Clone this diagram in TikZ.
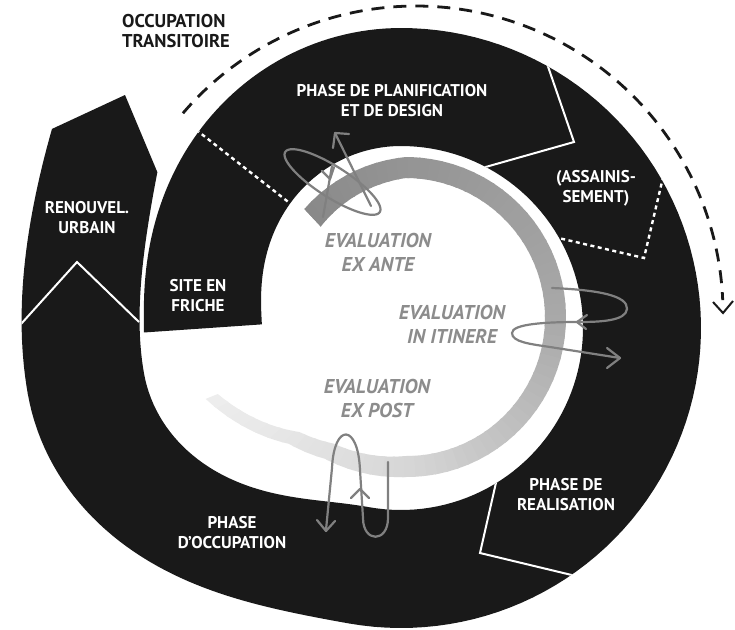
\documentclass[tikz,border=0pt]{standalone}
\usepackage{fontspec}
\setmainfont{PT Sans}
\newcommand\bandpath{%
  plot[domain=-1:90,samples=60,variable=\t] ({401-(ra(\t)+118)*cos(\t)},{328-(ra(\t)+118)*sin(\t)})
  -- plot[domain=90:280,samples=80,variable=\t] ({401-300*cos(\t)},{328-300*sin(\t)})
  -- plot[domain=280:350,samples=50,variable=\t] ({401-(rc(\t)+118)*cos(\t)},{328-(rc(\t)+118)*sin(\t)})
  -- plot[domain=350:389.7,samples=30,variable=\t] ({401-(rd(\t)+118)*cos(\t)},{328-(rd(\t)+118)*sin(\t)})
  -- (125,95)
  -- plot[domain=392.6:350,samples=30,variable=\t] ({401-rd(\t)*cos(\t)},{328-rd(\t)*sin(\t)})
  -- plot[domain=350:280,samples=50,variable=\t] ({401-rc(\t)*cos(\t)},{328-rc(\t)*sin(\t)})
  -- plot[domain=280:90,samples=80,variable=\t] ({401-182*cos(\t)},{328-182*sin(\t)})
  -- plot[domain=90:1.5,samples=60,variable=\t] ({401-ra(\t)*cos(\t)},{328-ra(\t)*sin(\t)})
  -- cycle}
\newcommand\greyband{%
  plot[domain=47:90,samples=20,variable=\t] ({406-(149+12*(\t-47)/43)*cos(\t)},{318-(149+12*(\t-47)/43)*sin(\t)})
  -- plot[domain=90:270,samples=60,variable=\t] ({406-(161-2*(\t-90)/180)*cos(\t)},{318-(161-2*(\t-90)/180)*sin(\t)})
  -- plot[domain=270:300,samples=12,variable=\t] ({406-(159+7*(\t-270)/30-8*(\t-270)/68)*cos(\t)},{318-(159+7*(\t-270)/30-8*(\t-270)/68)*sin(\t)})
  -- plot[domain=300:313,samples=8,variable=\t] ({406-(166+11*(\t-300)/13-8*(\t-270)/68)*cos(\t)},{318-(166+11*(\t-300)/13-8*(\t-270)/68)*sin(\t)})
  -- plot[domain=313:338,samples=12,variable=\t] ({406-(177+47*(\t-313)/25-8*(\t-270)/68)*cos(\t)},{318-(177+47*(\t-313)/25-8*(\t-270)/68)*sin(\t)})
  -- plot[domain=338:313,samples=12,variable=\t] ({406-(156+47*(\t-313)/25)*cos(\t)},{318-(156+47*(\t-313)/25)*sin(\t)})
  -- plot[domain=313:300,samples=8,variable=\t] ({406-(145+11*(\t-300)/13)*cos(\t)},{318-(145+11*(\t-300)/13)*sin(\t)})
  -- plot[domain=300:270,samples=12,variable=\t] ({406-(138+7*(\t-270)/30)*cos(\t)},{318-(138+7*(\t-270)/30)*sin(\t)})
  -- plot[domain=270:90,samples=60,variable=\t] ({406-(140-2*(\t-90)/180)*cos(\t)},{318-(140-2*(\t-90)/180)*sin(\t)})
  -- plot[domain=90:47,samples=20,variable=\t] ({406-(125+15*(\t-47)/43)*cos(\t)},{318-(125+15*(\t-47)/43)*sin(\t)})
  -- cycle}
\begin{document}
\begin{tikzpicture}[x=1pt,y=-1pt,
  declare function={
    ra(\t)=139+43*abs(sin(\t))*sqrt(abs(sin(\t))+0.0001);
    rc(\t)=182+79*sin(90*(\t-280)/70)*sin(90*(\t-280)/70);
    rd(\t)=261+29*((\t-350)/43)*((\t-350)/43)*((\t-350)/43);
  },
  lab/.style={text=white, font=\bfseries\fontsize{17}{20}\selectfont, align=center, inner sep=0pt},
  evl/.style={text=black!45, font=\bfseries\itshape\fontsize{20}{24}\selectfont, align=center, inner sep=0pt},
  sepline/.style={white, line width=2pt},
  sepdots/.style={white, line width=2.4pt, dash pattern=on 4pt off 3.5pt},
  evarrow/.style={black!50, line width=2.2pt, line cap=round, line join=round},
]
\fill[white] (0,0) rectangle (735,629);
\useasboundingbox (0,0) rectangle (735,629);
% black spiral band
\fill[black!90] \bandpath;
\begin{scope}
  \clip \bandpath;
  \draw[sepdots] (190,125) -- (296,208);
  \draw[sepline] (543,52) -- (574,142) -- (475,170);
  \draw[sepdots] (665,169) -- (644,258) -- (550,236);
  \draw[sepline] (500,465) -- (480,553) -- (580,577);
  \draw[sepline] (12,334) -- (77,262) -- (139,322);
\end{scope}
% grey evaluation band with gradient
\begin{scope}
  \clip \greyband;
  \foreach \a in {43,47,...,87} {
    \pgfmathsetmacro\pc{46-4*(\a+2-50)/40}
    \fill[black!\pc] (406,318) -- ({406-260*cos(\a-0.4)},{318-260*sin(\a-0.4)}) -- ({406-260*cos(\a+4.4)},{318-260*sin(\a+4.4)}) -- cycle;
  }
  \foreach \a in {91,95,...,179} {
    \pgfmathsetmacro\pc{42-8*(\a+2-90)/90}
    \fill[black!\pc] (406,318) -- ({406-260*cos(\a-0.4)},{318-260*sin(\a-0.4)}) -- ({406-260*cos(\a+4.4)},{318-260*sin(\a+4.4)}) -- cycle;
  }
  \foreach \a in {183,187,...,267} {
    \pgfmathsetmacro\pc{34-18*(\a+2-180)/90}
    \fill[black!\pc] (406,318) -- ({406-260*cos(\a-0.4)},{318-260*sin(\a-0.4)}) -- ({406-260*cos(\a+4.4)},{318-260*sin(\a+4.4)}) -- cycle;
  }
  \foreach \a in {271,275,...,343} {
    \pgfmathsetmacro\pc{max(5,16-9*(\a+2-270)/68)}
    \fill[black!\pc] (406,318) -- ({406-260*cos(\a-0.4)},{318-260*sin(\a-0.4)}) -- ({406-260*cos(\a+4.4)},{318-260*sin(\a+4.4)}) -- cycle;
  }
\end{scope}
% dashed arc : occupation transitoire
\draw[black!90, line width=2.8pt, dash pattern=on 13pt off 9pt] plot[domain=139.4:2.4,samples=120,variable=\s] ({416+307*cos(\s)},{313-307*sin(\s)});
\draw[black!90, line width=2pt] (713,302) -- (723,313) -- (733,301);
% evaluation loops
\draw[evarrow] plot[domain=0:360,samples=100,variable=\u] ({332.5+56*cos(\u)*cos(32.5)-15.5*sin(\u)*sin(32.5)},{182+56*cos(\u)*sin(32.5)+15.5*sin(\u)*cos(32.5)}) -- cycle;
\draw[evarrow] (323,217) -- (332,166);
\draw[evarrow] (322,171) -- (330,179) -- (334,167);
\draw[evarrow] (371,206) -- (335,133);
\draw[evarrow] (333,148) -- (335,133) -- (349,134);
\draw[evarrow] (552,288) .. controls (600,290) and (628,296) .. (627,309) .. controls (626,321) and (600,322) .. (578,322) .. controls (545,322) and (512,324) .. (512,333) .. controls (512,342) and (530,344) .. (550,347) -- (620,358);
\draw[evarrow] (587,315) -- (577,322) -- (586,329);
\draw[evarrow] (607,348) -- (620,358) -- (607,368);
\draw[evarrow] (388,462) -- (388,518) .. controls (388,543) and (363,543) .. (363,518) -- (360,470) .. controls (358,423) and (334,423) .. (332,468) -- (326,530);
\draw[evarrow] (351,498) -- (360,489) -- (369,498);
\draw[evarrow] (317,520) -- (326,531) -- (335,521);
% labels
\node[lab] (planif) at (392,101) {PHASE DE PLANIFICATION\\ET DE DESIGN};
\node[lab] (assain) at (596,188) {(ASSAINIS-\\SEMENT)};
\node[lab] (renouv) at (87,218) {RENOUVEL.\\URBAIN};
\node[lab] (friche) at (198,296) {SITE EN\\FRICHE};
\node[lab] (occup) at (232,533) {PHASE\\D’OCCUPATION};
\node[lab] (realis) at (566,495) {PHASE DE\\REALISATION};
\node[lab, text=black!90, align=left, anchor=north west, font=\bfseries\fontsize{18.5}{20}\selectfont] (occtrans) at (122,14) {OCCUPATION\\TRANSITOIRE};
\node[evl] (exante) at (378,252) {EVALUATION\\EX ANTE};
\node[evl] (itinere) at (452,324) {EVALUATION\\IN ITINERE};
\node[evl] (expost) at (377,398) {EVALUATION\\EX POST};
\end{tikzpicture}
\end{document}
